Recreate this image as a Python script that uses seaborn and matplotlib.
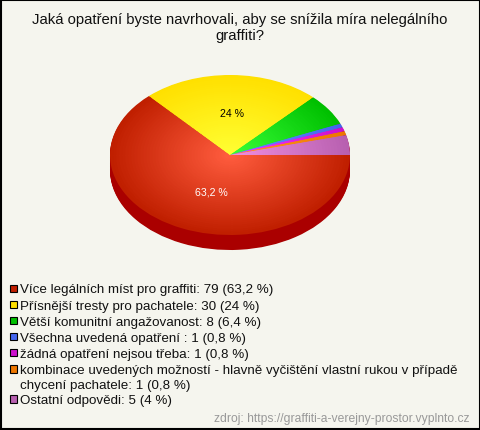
import numpy as np
import matplotlib
matplotlib.use("Agg")
import matplotlib.pyplot as plt
from matplotlib.patches import Rectangle
import seaborn as sns

# Data
odpovedi = ["Více legálních míst pro graffiti", "Přísnější tresty pro pachatele",
            "Větší komunitní angažovanost", "Všechna uvedená opatření ", "žádná opatření nejsou třeba",
            "kombinace uvedených možností - hlavně vyčištění vlastní rukou v případě\nchycení pachatele",
            "Ostatní odpovědi"]
pocty = [79, 30, 8, 1, 1, 1, 5]
procenta = [63.2, 24, 6.4, 0.8, 0.8, 0.8, 4]
barvy_okraj = ["#c01f00", "#ffe000", "#00c000", "#4466ee", "#cc11cc", "#ee7700", "#b860b0"]
barvy_stred = ["#ff5c3e", "#ffff33", "#38ff38", "#6a8cff", "#ff33ff", "#ff9922", "#f08ee0"]
titulek = "Jaká opatření byste navrhovali, aby se snížila míra nelegálního\ngraffiti?"
zdroj = "zdroj: https://graffiti-a-verejny-prostor.vyplnto.cz"

sns.set_theme(style="white")
plt.rcParams["font.family"] = ["Liberation Sans", "DejaVu Sans"]

W, H = 480, 431
POZADI = "#f5f5ee"
fig = plt.figure(figsize=(W / 100, H / 100), dpi=100, facecolor=POZADI)

# Pixel axes for the title, legend and source
bg = fig.add_axes([0, 0, 1, 1])
bg.set_xlim(0, W)
bg.set_ylim(H, 0)
bg.axis("off")
bg.add_patch(Rectangle((0.5, 0.5), W - 1, H - 1, fc="none", ec="black", lw=1.5))

bg.text(240, 28, titulek, ha="center", va="center", fontsize=10.7, color="#111111", linespacing=1.12)

# Pie, squeezed into an ellipse with a fake 3D side
hloubka = 15 / 80
ax = fig.add_axes([110 / W, (H - 236 - 15) / H, 240 / W, 175 / H])
ax.patch.set_alpha(0)
for d in np.linspace(hloubka, 0.01, 20):
    ax.pie(pocty, colors=["#aa0000"] * 7, startangle=0, counterclock=False,
           center=(0, -d), radius=1, wedgeprops={"linewidth": 0})

kroky = 40
rampy = [sns.blend_palette([o, s], kroky) for o, s in zip(barvy_okraj, barvy_stred)]
for i, r in enumerate(np.linspace(1, 0.025, kroky)):
    ax.pie(pocty, colors=[rampa[i] for rampa in rampy], startangle=0, counterclock=False,
           radius=r, wedgeprops={"linewidth": 0})
ax.set_aspect("auto")
ax.set_xlim(-1, 1)
ax.set_ylim(-1 - hloubka, 1)

# Value labels on the two big slices
uhly = 360 * (np.cumsum(pocty) - np.array(pocty) / 2) / np.sum(pocty)
for i, barva, posun in [(0, "white", (6, 0)), (1, "black", (1, 2))]:
    ax.annotate(f"{procenta[i]:g} %".replace(".", ","),
                (0.5 * np.cos(np.radians(-uhly[i])), 0.5 * np.sin(np.radians(-uhly[i]))),
                xytext=posun, textcoords="offset pixels",
                ha="center", va="center", fontsize=7.6, color=barva)

# Legend
y = 290.5
for nazev, pocet, pct, barva in zip(odpovedi, pocty, procenta, barvy_okraj):
    bg.add_patch(Rectangle((9.5, y - 5), 7.5, 7.5, fc=barva, ec="black", lw=0.8))
    popis = f"{nazev}: {pocet} ({pct:g} %)".replace(".", ",")
    radky = popis.split("\n")
    for j, radek in enumerate(radky):
        bg.text(20, y + j * 15, radek, ha="left", va="center", fontsize=9.6, color="#111111")
    y += 16.1 + (len(radky) - 1) * 14

bg.text(470, 419.5, zdroj, ha="right", va="center", fontsize=8.75, color="#999999")

fig.savefig("out.png", dpi=100, facecolor=POZADI)
